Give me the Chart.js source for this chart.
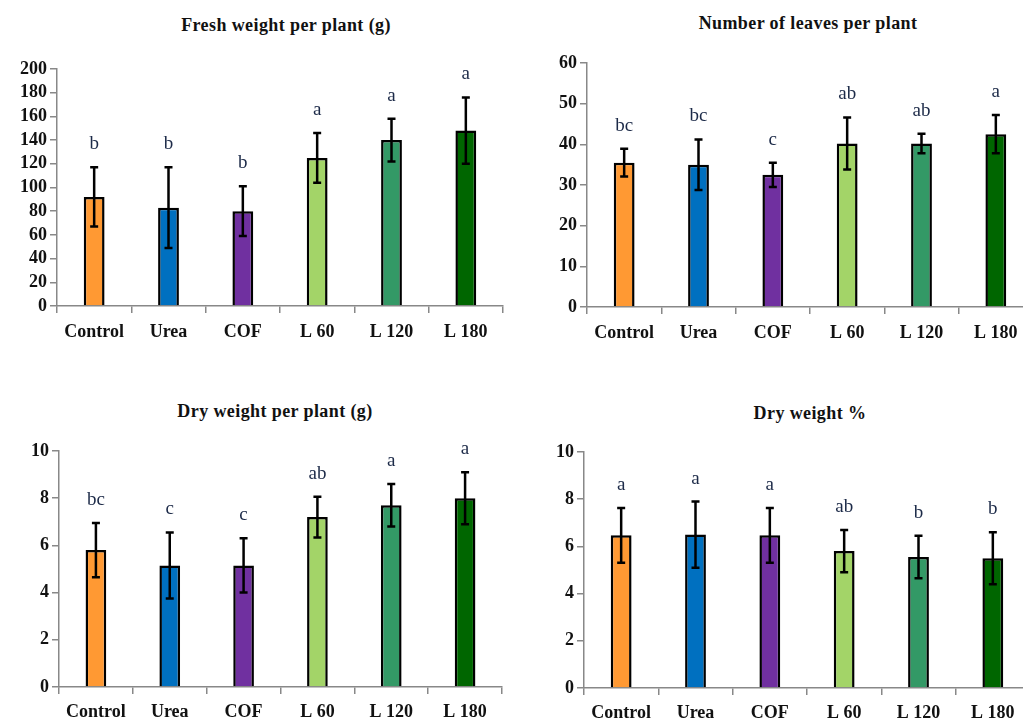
<!DOCTYPE html>
<html>
<head>
<meta charset="utf-8">
<script src="https://cdn.jsdelivr.net/npm/chart.js@4.4.0/dist/chart.umd.min.js"></script>
<style>
  html, body { margin: 0; padding: 0; background: #fff; overflow: hidden; width: 1023px; height: 724px; }
  .box { position: absolute; }
  .title {
    position: absolute; width: 400px; margin-left: -200px; text-align: center;
    font: bold 18px "Liberation Serif", serif; color: #111; line-height: 20px; letter-spacing: 0.4px;
  }
</style>
</head>
<body>
<div class="title" style="left:286px; top:15px;">Fresh weight per plant (g)</div>
<div class="title" style="left:808px; top:13px;">Number of leaves per plant</div>
<div class="title" style="left:275px; top:401px;">Dry weight per plant (g)</div>
<div class="title" style="left:810px; top:403px;">Dry weight %</div>

<canvas id="c1" class="box" width="512" height="362" style="left:0px; top:0px;"></canvas>
<canvas id="c2" class="box" width="540" height="362" style="left:511px; top:0px;"></canvas>
<canvas id="c3" class="box" width="512" height="362" style="left:0px; top:380px;"></canvas>
<canvas id="c4" class="box" width="540" height="362" style="left:511px; top:380px;"></canvas>

<script>
const categories = ['Control', 'Urea', 'COF', 'L 60', 'L 120', 'L 180'];

const freshMean = [92, 83, 80, 125, 140, 148];
const freshErr = [25, 34, 21, 21, 18, 28];
const freshLetters = ['b', 'b', 'b', 'a', 'a', 'a'];

const leavesMean = [35.5, 35, 32.5, 40.2, 40.2, 42.5];
const leavesErr = [3.4, 6.2, 3, 6.4, 2.4, 4.7];
const leavesLetters = ['bc', 'bc', 'c', 'ab', 'ab', 'a'];

const dryMean = [5.8, 5.15, 5.15, 7.2, 7.7, 8.0];
const dryErr = [1.15, 1.4, 1.15, 0.86, 0.9, 1.1];
const dryLetters = ['bc', 'c', 'c', 'ab', 'a', 'a'];

const dryPctMean = [6.47, 6.5, 6.47, 5.8, 5.55, 5.5];
const dryPctErr = [1.16, 1.4, 1.16, 0.9, 0.9, 1.1];
const dryPctLetters = ['a', 'a', 'a', 'ab', 'b', 'b'];

const barColors = ['#FF9933', '#0070C0', '#7030A0', '#A3D468', '#339966', '#006600'];
const axisColor = '#888888';
const serif = '"Liberation Serif", serif';

// error bars + significance letters, drawn through the chart's own scales
const errorBarPlugin = {
  id: 'errorBars',
  afterDatasetsDraw(chart, args, opts) {
    const ctx = chart.ctx;
    const yScale = chart.scales.y;
    const meta = chart.getDatasetMeta(0);
    ctx.save();
    meta.data.forEach((bar, i) => {
      const m = opts.mean[i], e = opts.err[i];
      const yTop = yScale.getPixelForValue(m + e);
      const yBot = yScale.getPixelForValue(m - e);
      ctx.strokeStyle = '#000';
      ctx.lineWidth = 2.5;
      ctx.beginPath();
      ctx.moveTo(bar.x, yTop); ctx.lineTo(bar.x, yBot);
      ctx.moveTo(bar.x - 4, yTop); ctx.lineTo(bar.x + 4, yTop);
      ctx.moveTo(bar.x - 4, yBot); ctx.lineTo(bar.x + 4, yBot);
      ctx.stroke();
      ctx.fillStyle = '#1c2a48';
      ctx.font = '19px ' + serif;
      ctx.textAlign = 'center';
      ctx.textBaseline = 'middle';
      ctx.fillText(opts.letters[i], bar.x, yTop - 23);
    });
    ctx.restore();
  }
};

function makeChart(id, mean, err, letters, yMax, step, area) {
  const canvas = document.getElementById(id);
  return new Chart(canvas.getContext('2d'), {
    type: 'bar',
    data: {
      labels: categories,
      datasets: [{
        data: mean,
        backgroundColor: barColors,
        borderColor: '#000',
        borderWidth: 2.5,
        barPercentage: 0.28,
        categoryPercentage: 1.0,
      }],
    },
    options: {
      responsive: false,
      animation: false,
      devicePixelRatio: 1,
      layout: {
        padding: { top: area.top, right: canvas.width - area.right, left: 0, bottom: 0 },
      },
      plugins: {
        legend: { display: false },
        tooltip: { enabled: false },
        errorBars: { mean: mean, err: err, letters: letters },
      },
      scales: {
        x: {
          grid: { display: true, drawOnChartArea: false, drawTicks: true, tickLength: 7, color: axisColor, lineWidth: 1.5, offset: true },
          border: { color: axisColor, width: 1.5 },
          ticks: { color: '#111', font: { family: serif, size: 18, weight: 'bold' }, padding: area.xPad, maxRotation: 0, autoSkip: false },
          afterFit: (s) => { s.height = canvas.height - area.bottom; },
        },
        y: {
          min: 0,
          max: yMax,
          grid: { display: true, drawOnChartArea: false, drawTicks: true, tickLength: 7, color: axisColor, lineWidth: 1.5 },
          border: { color: axisColor, width: 1.5 },
          ticks: { stepSize: step, autoSkip: false, color: '#111', font: { family: serif, size: 18, weight: 'bold' }, padding: 3 },
          afterFit: (s) => { s.width = area.left; },
        },
      },
    },
    plugins: [errorBarPlugin],
  });
}

makeChart('c1', freshMean, freshErr, freshLetters, 200, 20, { left: 57, right: 503, top: 69, bottom: 306, xPad: 9 });
makeChart('c2', leavesMean, leavesErr, leavesLetters, 60, 10, { left: 76, right: 522, top: 63, bottom: 307, xPad: 9 });
makeChart('c3', dryMean, dryErr, dryLetters, 10, 2, { left: 59, right: 502, top: 71, bottom: 307, xPad: 8 });
makeChart('c4', dryPctMean, dryPctErr, dryPctLetters, 10, 2, { left: 73, right: 519, top: 72, bottom: 308, xPad: 8 });
</script>
</body>
</html>
